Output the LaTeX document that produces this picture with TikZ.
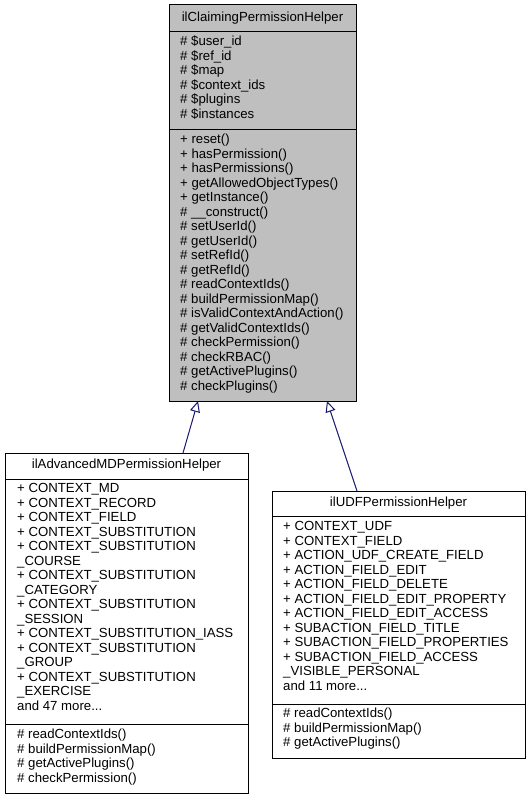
\documentclass[tikz,border=0pt]{standalone}
\usepackage{fontspec}
\setmainfont{Liberation Sans}
\usetikzlibrary{arrows.meta}
\definecolor{boxgray}{HTML}{BFBFBF}
\definecolor{edgeblue}{HTML}{191970}
\newcommand{\morefortyseven}{and 47 more.{}.{}.}
\newcommand{\moreeleven}{and 11 more.{}.{}.}
\begin{document}
\begin{tikzpicture}[x=1pt,y=-1pt,
  sect/.style={draw=black, line width=1pt, anchor=north west, inner sep=0pt, outer sep=0pt},
  txt/.style={anchor=mid west, inner sep=0pt, font=\fontsize{13.2}{14.5}\selectfont},
  ttl/.style={anchor=mid, inner sep=0pt, font=\fontsize{13.2}{14.5}\selectfont},
  inh/.style={draw=edgeblue, line width=1pt, -{Triangle[open,length=11pt,width=10pt,fill=white]}}]
\useasboundingbox (0,0) rectangle (530,800);

% ---- base class ----
\node[sect, fill=boxgray, minimum width=187pt, minimum height=27pt] (baseT) at (169,5) {};
\node[sect, fill=boxgray, minimum width=187pt, minimum height=97pt] (baseA) at (169,32) {};
\node[sect, fill=boxgray, minimum width=187pt, minimum height=272pt] (baseM) at (169,129) {};
\node[ttl] (baseTitle) at (262.5,18.5) {ilClaimingPermissionHelper};
\foreach \t [count=\i from 0] in {\# \$user\_id, \# \$ref\_id, \# \$map, \# \$context\_ids, \# \$plugins, \# \$instances}
  \node[txt] (baseAttr\i) at (180,{43+14.5*\i}) {\t};
\foreach \t [count=\i from 0] in {+ reset(), + hasPermission(), + hasPermissions(), + getAllowedObjectTypes(), + getInstance(), \# \_\_construct(), \# setUserId(), \# getUserId(), \# setRefId(), \# getRefId(), \# readContextIds(), \# buildPermissionMap(), \# isValidContextAndAction(), \# getValidContextIds(), \# checkPermission(), \# checkRBAC(), \# getActivePlugins(), \# checkPlugins()}
  \node[txt] (baseMeth\i) at (180,{141+14.5*\i}) {\t};

% ---- ilAdvancedMDPermissionHelper ----
\node[sect, fill=white, minimum width=243pt, minimum height=26pt] (advT) at (5,453) {};
\node[sect, fill=white, minimum width=243pt, minimum height=245pt] (advA) at (5,479) {};
\node[sect, fill=white, minimum width=243pt, minimum height=69pt] (advM) at (5,724) {};
\node[ttl] (advTitle) at (126.5,466) {ilAdvancedMDPermissionHelper};
\foreach \t [count=\i from 0] in {+ CONTEXT\_MD, + CONTEXT\_RECORD, + CONTEXT\_FIELD, + CONTEXT\_SUBSTITUTION, + CONTEXT\_SUBSTITUTION, \_COURSE, + CONTEXT\_SUBSTITUTION, \_CATEGORY, + CONTEXT\_SUBSTITUTION, \_SESSION, + CONTEXT\_SUBSTITUTION\_IASS, + CONTEXT\_SUBSTITUTION, \_GROUP, + CONTEXT\_SUBSTITUTION, \_EXERCISE, \morefortyseven}
  \node[txt] (advAttr\i) at (17,{490+14.5*\i}) {\t};
\foreach \t [count=\i from 0] in {\# readContextIds(), \# buildPermissionMap(), \# getActivePlugins(), \# checkPermission()}
  \node[txt] (advMeth\i) at (17,{736+14.5*\i}) {\t};

% ---- ilUDFPermissionHelper ----
\node[sect, fill=white, minimum width=253pt, minimum height=25pt] (udfT) at (272,491) {};
\node[sect, fill=white, minimum width=253pt, minimum height=188pt] (udfA) at (272,516) {};
\node[sect, fill=white, minimum width=253pt, minimum height=54pt] (udfM) at (272,704) {};
\node[ttl] (udfTitle) at (398.5,503.5) {ilUDFPermissionHelper};
\foreach \t [count=\i from 0] in {+ CONTEXT\_UDF, + CONTEXT\_FIELD, + ACTION\_UDF\_CREATE\_FIELD, + ACTION\_FIELD\_EDIT, + ACTION\_FIELD\_DELETE, + ACTION\_FIELD\_EDIT\_PROPERTY, + ACTION\_FIELD\_EDIT\_ACCESS, + SUBACTION\_FIELD\_TITLE, + SUBACTION\_FIELD\_PROPERTIES, + SUBACTION\_FIELD\_ACCESS, \_VISIBLE\_PERSONAL, \moreeleven}
  \node[txt] (udfAttr\i) at (283,{528+14.5*\i}) {\t};
\foreach \t [count=\i from 0] in {\# readContextIds(), \# buildPermissionMap(), \# getActivePlugins()}
  \node[txt] (udfMeth\i) at (283,{715+14.5*\i}) {\t};

% ---- inheritance connectors ----
\coordinate (advUp) at (183,453);
\coordinate (baseDownL) at (198,401);
\coordinate (udfUp) at (357,491);
\coordinate (baseDownR) at (327,401);
\draw[inh] (advUp) -- (baseDownL);
\draw[inh] (udfUp) -- (baseDownR);
\end{tikzpicture}
\end{document}
